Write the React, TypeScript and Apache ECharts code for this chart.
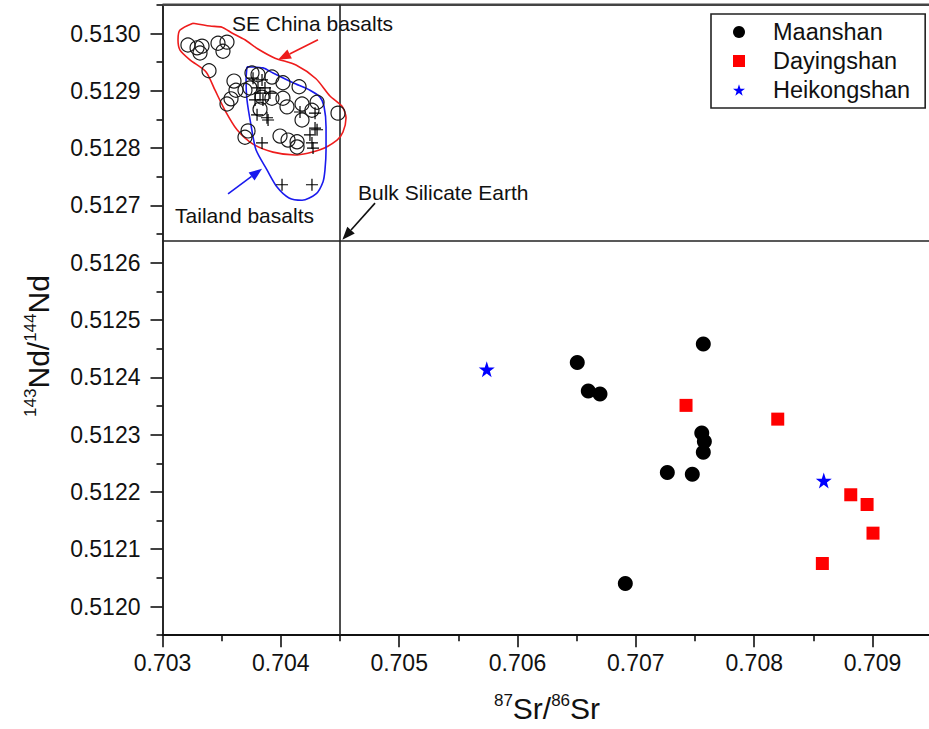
import React, { useEffect, useRef } from 'react';
import * as echarts from 'echarts';

const FONT = "'Liberation Sans', Arial, Helvetica, sans-serif";

// ---- axes ----
const xMin = 0.703;
const xMax = 0.7095;
const xInterval = 0.001;
const yMin = 0.51195;
const yMax = 0.51305;
const yTickLabels = [0.512, 0.5121, 0.5122, 0.5123, 0.5124, 0.5125, 0.5126, 0.5127, 0.5128, 0.5129, 0.513];
const yMinorTicks = [0.51195, 0.51205, 0.51215, 0.51225, 0.51235, 0.51245, 0.51255, 0.51265, 0.51275, 0.51285, 0.51295, 0.51305];

// Bulk Silicate Earth reference values
const bseSr = 0.7045;
const bseNd = 0.512638;

// ---- data ----
const maanshan: [number, number][] = [
  [0.70757, 0.512458],
  [0.706505, 0.512426],
  [0.706598, 0.512376],
  [0.706697, 0.512371],
  [0.707557, 0.512303],
  [0.707579, 0.512288],
  [0.70757, 0.512269],
  [0.707266, 0.512234],
  [0.707477, 0.512231],
  [0.706911, 0.51204],
];

const dayingshan: [number, number][] = [
  [0.707424, 0.512351],
  [0.708199, 0.512327],
  [0.708816, 0.512195],
  [0.708954, 0.512178],
  [0.709004, 0.512128],
  [0.708576, 0.512075],
];

const heikongshan: [number, number][] = [
  [0.70574, 0.512414],
  [0.708588, 0.51222],
];

const seChinaBasalts: [number, number][] = [
  [0.703215, 0.51298], [0.703292, 0.512975], [0.703334, 0.512978], [0.703317, 0.512966],
  [0.703469, 0.512983], [0.703545, 0.512985], [0.703511, 0.512969], [0.703393, 0.512935],
  [0.703604, 0.512917], [0.703621, 0.512901], [0.703579, 0.512886], [0.703545, 0.512877],
  [0.703756, 0.512931], [0.703807, 0.512928], [0.703925, 0.512924], [0.704018, 0.512914],
  [0.704154, 0.512907], [0.703739, 0.512905], [0.703697, 0.512901], [0.703841, 0.512889],
  [0.703925, 0.512887], [0.704018, 0.512887], [0.703824, 0.512868], [0.704179, 0.512877],
  [0.704306, 0.51288], [0.704263, 0.512866], [0.704179, 0.512849], [0.704052, 0.512872],
  [0.704483, 0.512861], [0.703697, 0.512819], [0.703993, 0.512821], [0.704061, 0.512814],
  [0.704137, 0.512811], [0.703723, 0.51283], [0.704137, 0.512802],
];

const tailandBasalts: [number, number][] = [
  [0.703765, 0.512922], [0.703841, 0.512919], [0.703824, 0.512896], [0.703908, 0.512896],
  [0.703849, 0.512884], [0.703782, 0.512884], [0.703799, 0.512858], [0.703883, 0.512853],
  [0.704162, 0.512863], [0.704289, 0.512861], [0.704306, 0.512832], [0.704246, 0.512823],
  [0.703841, 0.512809], [0.704263, 0.512809], [0.703892, 0.512849], [0.704289, 0.512835],
  [0.704272, 0.5128], [0.70401, 0.512736], [0.704263, 0.512736], [0.703866, 0.512905],
  [0.703807, 0.512905],
];

const seChinaOutline: [number, number][] = [
  [0.703258, 0.513018], [0.703401, 0.513013], [0.703503, 0.513011], [0.703587, 0.513001],
  [0.703697, 0.512989], [0.703807, 0.512973], [0.703951, 0.512957], [0.704128, 0.512945],
  [0.704297, 0.512921], [0.704415, 0.512891], [0.704517, 0.512873], [0.704551, 0.512853],
  [0.704525, 0.512828], [0.704475, 0.512814], [0.704331, 0.512797], [0.70412, 0.512788],
  [0.703934, 0.512793], [0.703765, 0.512807], [0.70363, 0.512832], [0.703528, 0.512866],
  [0.703444, 0.512901], [0.703368, 0.512933], [0.703232, 0.512954], [0.703148, 0.512971],
  [0.703131, 0.512989], [0.703148, 0.513006], [0.703258, 0.513018],
];

const tailandOutline: [number, number][] = [
  [0.703714, 0.512942], [0.703849, 0.51294], [0.703934, 0.512931], [0.704103, 0.512914],
  [0.704246, 0.512901], [0.704331, 0.512889], [0.704365, 0.512873], [0.704382, 0.512837],
  [0.704382, 0.512797], [0.704373, 0.512762], [0.704356, 0.512741], [0.704297, 0.51272],
  [0.704179, 0.512709], [0.704069, 0.512713], [0.703968, 0.512732], [0.703883, 0.512762],
  [0.70379, 0.512797], [0.703748, 0.51284], [0.703714, 0.512884], [0.703706, 0.512919],
  [0.703714, 0.512942],
];

// annotation anchors (data space)
const annotations = [
  { text: 'SE China basalts', at: [0.703587, 0.513017], tail: [0.704314, 0.512989], head: [0.703976, 0.512954], color: '#ee1c1c' },
  { text: 'Tailand basalts', at: [0.703106, 0.512683], tail: [0.703554, 0.51272], head: [0.703841, 0.512764], color: '#1a1aee' },
  { text: 'Bulk Silicate Earth', at: [0.704652, 0.512722], tail: [0.704796, 0.512704], head: [0.70452, 0.51264], color: '#111' },
];

const STAR = 'path://M50,0 L61.8,35.1 L98.1,35.1 L68.8,56.7 L79.4,90.5 L50,69.5 L20.6,90.5 L31.2,56.7 L1.9,35.1 L38.2,35.1 Z';
const CROSS = 'path://M5,0 L5,10 M0,5 L10,5';

export default function App() {
  const ref = useRef<HTMLDivElement>(null);
  useEffect(() => {
    if (!ref.current) return;
    const chart = echarts.init(ref.current, undefined, { renderer: 'svg' });
    const axisColor = '#111';
    const refLine = (data: [number, number][], color: string, width: number) => ({
      type: 'line', data, showSymbol: false, silent: true, clip: false, z: 1,
      lineStyle: { color, width }, emphasis: { disabled: true },
    });
    const option: any = {
      animation: false,
      backgroundColor: '#fff',
      grid: { left: 162.5, right: 13.3, top: 4.85, bottom: 93.85, containLabel: false, outerBoundsMode: 'none' },
      xAxis: [
        {
          type: 'value', min: xMin, max: xMax, interval: xInterval, position: 'bottom',
          axisLine: { show: true, onZero: false, lineStyle: { color: axisColor, width: 1.8 } },
          axisTick: { show: true, length: 12, lineStyle: { color: axisColor, width: 1.6 } },
          minorTick: { show: true, splitNumber: 2, length: 6, lineStyle: { color: axisColor, width: 1.6 } },
          axisLabel: {
            margin: 16, fontSize: 23, color: '#111', fontFamily: FONT,
            formatter: (v: number) => (Math.abs(Math.round(v * 1000) - v * 1000) < 1e-6 ? v.toFixed(3) : ''),
          },
          splitLine: { show: false },
        },
      ],
      yAxis: [
        {
          type: 'value', min: yMin, max: yMax, position: 'left',
          axisLine: { show: true, onZero: false, lineStyle: { color: axisColor, width: 1.8 } },
          axisTick: { show: true, length: 12, customValues: yTickLabels, lineStyle: { color: axisColor, width: 1.6 } },
          axisLabel: {
            margin: 22, fontSize: 23, color: '#111', fontFamily: FONT, customValues: yTickLabels,
            formatter: (v: number) => v.toFixed(4),
          },
          splitLine: { show: false },
        },
        {
          type: 'value', min: yMin, max: yMax, position: 'left',
          axisLine: { show: false, onZero: false },
          axisTick: { show: true, length: 6, customValues: yMinorTicks, lineStyle: { color: axisColor, width: 1.6 } },
          axisLabel: { show: false },
          splitLine: { show: false },
        },
      ],
      legend: {
        orient: 'vertical', left: 711, top: 14,
        padding: [6, 15, 6, 22], itemWidth: 12, itemHeight: 12, itemGap: 5,
        borderColor: '#222', borderWidth: 1.6, backgroundColor: '#fff', selectedMode: false,
        textStyle: { fontSize: 23.5, color: '#111', fontFamily: FONT, lineHeight: 20, padding: [0, 0, 0, 23] },
        data: [
          { name: 'Maanshan', icon: 'circle', itemStyle: { color: '#000', opacity: 1 } },
          { name: 'Dayingshan', icon: 'rect', itemStyle: { color: '#ff0000', opacity: 1 } },
          { name: 'Heikongshan', icon: STAR, itemStyle: { color: '#0000ff', opacity: 1 } },
        ],
      },
      series: [
        { name: 'top frame', ...refLine([[xMin, yMax], [xMax, yMax]], '#444', 2.5) },
        { name: 'BSE Sr', ...refLine([[bseSr, yMin], [bseSr, yMax]], '#222', 1.6) },
        { name: 'BSE Nd', ...refLine([[xMin, bseNd], [xMax, bseNd]], '#222', 1.6) },
        {
          name: 'SE China field', type: 'line', data: seChinaOutline, smooth: 0.25, showSymbol: false, silent: true,
          lineStyle: { color: '#ee1c1c', width: 1.6 }, z: 2,
        },
        {
          name: 'Tailand field', type: 'line', data: tailandOutline, smooth: 0.25, showSymbol: false, silent: true,
          lineStyle: { color: '#1a1aee', width: 1.6 }, z: 2,
        },
        {
          name: 'SE China basalts', type: 'scatter', data: seChinaBasalts, symbol: 'circle', symbolSize: 14, silent: true,
          itemStyle: { color: 'rgba(255,255,255,0)', borderColor: '#1a1a1a', borderWidth: 1.2, opacity: 1 }, z: 3,
        },
        {
          name: 'Tailand basalts', type: 'scatter', data: tailandBasalts, symbol: CROSS, symbolSize: 12, silent: true,
          itemStyle: { color: 'rgba(255,255,255,0)', borderColor: '#000', borderWidth: 1.2, opacity: 1 }, z: 3,
        },
        {
          name: 'Maanshan', type: 'scatter', data: maanshan, symbol: 'circle', symbolSize: 15, silent: true,
          itemStyle: { color: '#000', opacity: 1 }, z: 4,
        },
        {
          name: 'Dayingshan', type: 'scatter', data: dayingshan, symbol: 'rect', symbolSize: 13, silent: true,
          itemStyle: { color: '#ff0000', opacity: 1 }, z: 4,
        },
        {
          name: 'Heikongshan', type: 'scatter', data: heikongshan, symbol: STAR, symbolSize: 16, silent: true,
          itemStyle: { color: '#0000ff', opacity: 1 }, z: 4,
        },
      ],
    };
    chart.setOption(option);

    const toPx = (p: number[]) => chart.convertToPixel({ xAxisIndex: 0, yAxisIndex: 0 }, p) as number[];
    const graphics: any[] = [];
    annotations.forEach((a) => {
      const at = toPx(a.at);
      const t = toPx(a.tail);
      const h = toPx(a.head);
      graphics.push({
        type: 'text', x: at[0], y: at[1], silent: true,
        style: { text: a.text, fill: '#111', fontSize: 21, fontFamily: FONT, align: 'left', verticalAlign: 'middle', textAlign: 'left', textVerticalAlign: 'middle' },
      });
      const dx = h[0] - t[0];
      const dy = h[1] - t[1];
      const len = Math.sqrt(dx * dx + dy * dy);
      const ux = dx / len;
      const uy = dy / len;
      const L = 13;
      const W = 5;
      const bx = h[0] - ux * L;
      const by = h[1] - uy * L;
      graphics.push({
        type: 'line', silent: true,
        shape: { x1: t[0], y1: t[1], x2: bx, y2: by },
        style: { stroke: a.color, lineWidth: 1.6 },
      });
      graphics.push({
        type: 'polygon', silent: true,
        shape: { points: [[h[0], h[1]], [bx - uy * W, by + ux * W], [bx + uy * W, by - ux * W]] },
        style: { fill: a.color },
      });
    });
    const rich = {
      sup: { fontSize: 17, fontFamily: FONT, fill: '#111', lineHeight: 16, verticalAlign: 'top' },
      main: { fontSize: 30, fontFamily: FONT, fill: '#111', lineHeight: 32, verticalAlign: 'middle' },
    };
    graphics.push({
      type: 'text', x: 547, y: 708, silent: true,
      style: { text: '{sup|87}{main|Sr/}{sup|86}{main|Sr}', rich, align: 'center', verticalAlign: 'middle', textAlign: 'center', textVerticalAlign: 'middle' },
    });
    graphics.push({
      type: 'text', x: 38, y: 346, rotation: Math.PI / 2, silent: true,
      style: { text: '{sup|143}{main|Nd/}{sup|144}{main|Nd}', rich, align: 'center', verticalAlign: 'middle', textAlign: 'center', textVerticalAlign: 'middle' },
    });
    chart.setOption({ graphic: graphics });

    return () => chart.dispose();
  }, []);
  return (
    <div style={{ position: 'fixed', left: 0, top: 0, width: 929, height: 729, overflow: 'hidden', background: '#fff' }}>
      <div ref={ref} style={{ width: 945, height: 729 }} />
    </div>
  );
}
